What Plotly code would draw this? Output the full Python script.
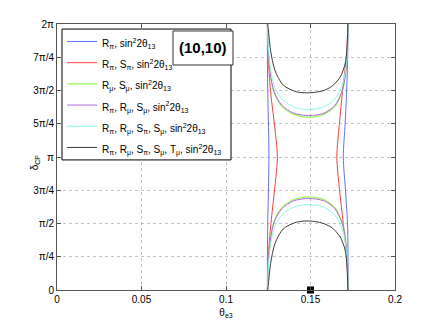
import math
import plotly.graph_objects as go

PI = math.pi

# legend names
names = [
    "R<sub>π</sub>, sin<sup>2</sup>2θ<sub>13</sub>",
    "R<sub>π</sub>, S<sub>π</sub>, sin<sup>2</sup>2θ<sub>13</sub>",
    "R<sub>μ</sub>, S<sub>μ</sub>, sin<sup>2</sup>2θ<sub>13</sub>",
    "R<sub>π</sub>, R<sub>μ</sub>, S<sub>μ</sub>, sin<sup>2</sup>2θ<sub>13</sub>",
    "R<sub>π</sub>, R<sub>μ</sub>, S<sub>π</sub>, S<sub>μ</sub>, sin<sup>2</sup>2θ<sub>13</sub>",
    "R<sub>π</sub>, R<sub>μ</sub>, S<sub>π</sub>, S<sub>μ</sub>, T<sub>μ</sub>, sin<sup>2</sup>2θ<sub>13</sub>",
]
colors = ["#5b72ff", "#ff3b3b", "#7cf52a", "#b36ae0", "#8ef8e4", "#3a3a3a"]

# contour read-offs: theta_e3 and delta_CP (in units of pi); None breaks a line
blue_x = [0.1245, 0.1245, 0.1247, 0.1251, 0.1254, 0.1251, 0.1247, 0.1245, 0.1245, None,
          0.1722, 0.1722, 0.1719, 0.1707, 0.1694, 0.1705, 0.1714, 0.1720, 0.1722]
blue_y = [0.0, 0.25, 0.5, 0.75, 1.0, 1.25, 1.5, 1.75, 2.0, None,
          0.0, 0.25, 0.5, 0.75, 1.0, 1.25, 1.5, 1.75, 2.0]

red_x = [0.1245, 0.1250, 0.1266, 0.1287, 0.1304, 0.1286, 0.1263, 0.1250, 0.1245, None,
         0.1722, 0.1714, 0.1694, 0.1672, 0.1656, 0.1671, 0.1690, 0.1712, 0.1722]
red_y = [0.0, 0.25, 0.5, 0.75, 1.0, 1.25, 1.5, 1.75, 2.0, None,
         0.0, 0.25, 0.5, 0.75, 1.0, 1.25, 1.5, 1.75, 2.0]

green_x = [0.1245, 0.1250, 0.1262, 0.1285, 0.1330, 0.1400, 0.1490, 0.1580, 0.1645, 0.1690, 0.1712, 0.1722, None,
           0.1245, 0.1250, 0.1262, 0.1285, 0.1330, 0.1400, 0.1490, 0.1580, 0.1645, 0.1690, 0.1712, 0.1722]
green_y = [0.0, 0.20, 0.38, 0.52, 0.62, 0.68, 0.70, 0.68, 0.62, 0.50, 0.33, 0.0, None,
           2.0, 1.80, 1.62, 1.48, 1.38, 1.32, 1.298, 1.32, 1.38, 1.50, 1.67, 2.0]

purple_x = [0.1245, 0.1250, 0.1262, 0.1285, 0.1330, 0.1400, 0.1490, 0.1580, 0.1645, 0.1690, 0.1712, 0.1722, None,
            0.1245, 0.1250, 0.1262, 0.1285, 0.1330, 0.1400, 0.1490, 0.1580, 0.1645, 0.1690, 0.1712, 0.1722]
purple_y = [0.0, 0.20, 0.37, 0.51, 0.61, 0.67, 0.688, 0.67, 0.61, 0.49, 0.32, 0.0, None,
            2.0, 1.80, 1.63, 1.49, 1.39, 1.33, 1.311, 1.33, 1.39, 1.51, 1.68, 2.0]

cyan_x = [0.1245, 0.1252, 0.1265, 0.1290, 0.1335, 0.1405, 0.1490, 0.1575, 0.1640, 0.1688, 0.1712, 0.1722, None,
          0.1245, 0.1252, 0.1265, 0.1290, 0.1335, 0.1405, 0.1490, 0.1575, 0.1640, 0.1688, 0.1712, 0.1722]
cyan_y = [0.0, 0.20, 0.35, 0.48, 0.57, 0.625, 0.643, 0.625, 0.57, 0.46, 0.30, 0.0, None,
          2.0, 1.80, 1.65, 1.52, 1.43, 1.375, 1.355, 1.375, 1.43, 1.54, 1.70, 2.0]

black_x = [0.1247, 0.1255, 0.1264, 0.1290, 0.1339, 0.1418, 0.1493, 0.1565, 0.1625, 0.1675, 0.1705, 0.1716, 0.1721, None,
           0.1247, 0.1255, 0.1264, 0.1290, 0.1339, 0.1418, 0.1493, 0.1565, 0.1625, 0.1675, 0.1705, 0.1716, 0.1721]
black_y = [0.0, 0.10, 0.20, 0.35, 0.46, 0.51, 0.519, 0.505, 0.47, 0.40, 0.30, 0.18, 0.0, None,
           2.0, 1.90, 1.80, 1.65, 1.54, 1.49, 1.483, 1.495, 1.53, 1.60, 1.70, 1.82, 2.0]

series_x = [blue_x, red_x, green_x, purple_x, cyan_x, black_x]
series_y = [blue_y, red_y, green_y, purple_y, cyan_y, black_y]

best_fit_x = [0.15]
best_fit_y = [0.0]

ytick_vals = [0, 0.25, 0.5, 0.75, 1.0, 1.25, 1.5, 1.75, 2.0]
ytick_text = ["0", "π/4", "π/2", "3π/4", "π", "5π/4", "3π/2", "7π/4", "2π"]
xtick_vals = [0, 0.05, 0.1, 0.15, 0.2]
xtick_text = ["0", "0.05", "0.1", "0.15", "0.2"]

fig = go.Figure()
for name, col, xs, ys in zip(names, colors, series_x, series_y):
    fig.add_trace(go.Scatter(
        x=xs, y=[None if v is None else v * PI for v in ys],
        mode="lines", name='<span style="font-size:10px">' + name + "</span>",
        line=dict(color=col, width=1, shape="spline", smoothing=0.8),
        connectgaps=False))

fig.add_trace(go.Scatter(x=best_fit_x, y=[v * PI for v in best_fit_y], mode="markers",
                         marker=dict(symbol="square", size=7, color="black"),
                         showlegend=False, cliponaxis=False))

axis_common = dict(showline=True, linecolor="#555", linewidth=1, mirror="allticks",
                   ticks="inside", ticklen=4, tickcolor="#555", automargin=False,
                   showgrid=True, gridcolor="#c4c4c4", griddash="dot", gridwidth=1,
                   zeroline=False, tickfont=dict(size=10, color="black"))

fig.update_xaxes(range=[0, 0.2], tickvals=xtick_vals, ticktext=xtick_text,
                 title=dict(text="θ<sub>e3</sub>", font=dict(size=10), standoff=4), **axis_common)
fig.update_yaxes(range=[0, 2 * PI], tickvals=[v * PI for v in ytick_vals], ticktext=ytick_text,
                 **axis_common)

# legend frame drawn as a shape so the "(10,10)" box can sit on top of it
fig.add_shape(type="rect", xref="paper", yref="paper", x0=0.0148, x1=0.5148, y0=0.489, y1=0.981,
              line=dict(color="black", width=1), fillcolor="white", layer="above")
# "(10,10)" box
fig.add_shape(type="rect", xref="paper", yref="paper", x0=0.3432, x1=0.5207, y0=0.8459, y1=0.9737,
              line=dict(color="#333", width=1), fillcolor="white", layer="above")

# y-axis title placed close to the tick labels, as in the reference
fig.add_annotation(text="δ<sub>CP</sub>", xref="paper", yref="paper", x=-0.065, y=0.48,
                   xanchor="center", yanchor="middle",
                   showarrow=False, textangle=-90, font=dict(size=10, color="black"))

fig.add_annotation(text="<b>(10,10)</b>", xref="paper", yref="paper", x=0.432, y=0.91,
                   xanchor="center", yanchor="middle",
                   showarrow=False, font=dict(size=15, color="black"))

# the page body has an 8px margin, so margins are reduced by 8px on left/top
fig.update_layout(
    width=436, height=327,
    margin=dict(l=49, r=49, t=16, b=45),
    paper_bgcolor="white", plot_bgcolor="white",
    font=dict(family="Liberation Sans, Arial, sans-serif", size=10, color="black"),
    legend=dict(x=0.015, y=0.993, xanchor="left", yanchor="top",
                borderwidth=0, bgcolor="rgba(0,0,0,0)",
                font=dict(size=14), itemwidth=30, tracegroupgap=0),
    showlegend=True,
)

fig.write_html("out.html")
